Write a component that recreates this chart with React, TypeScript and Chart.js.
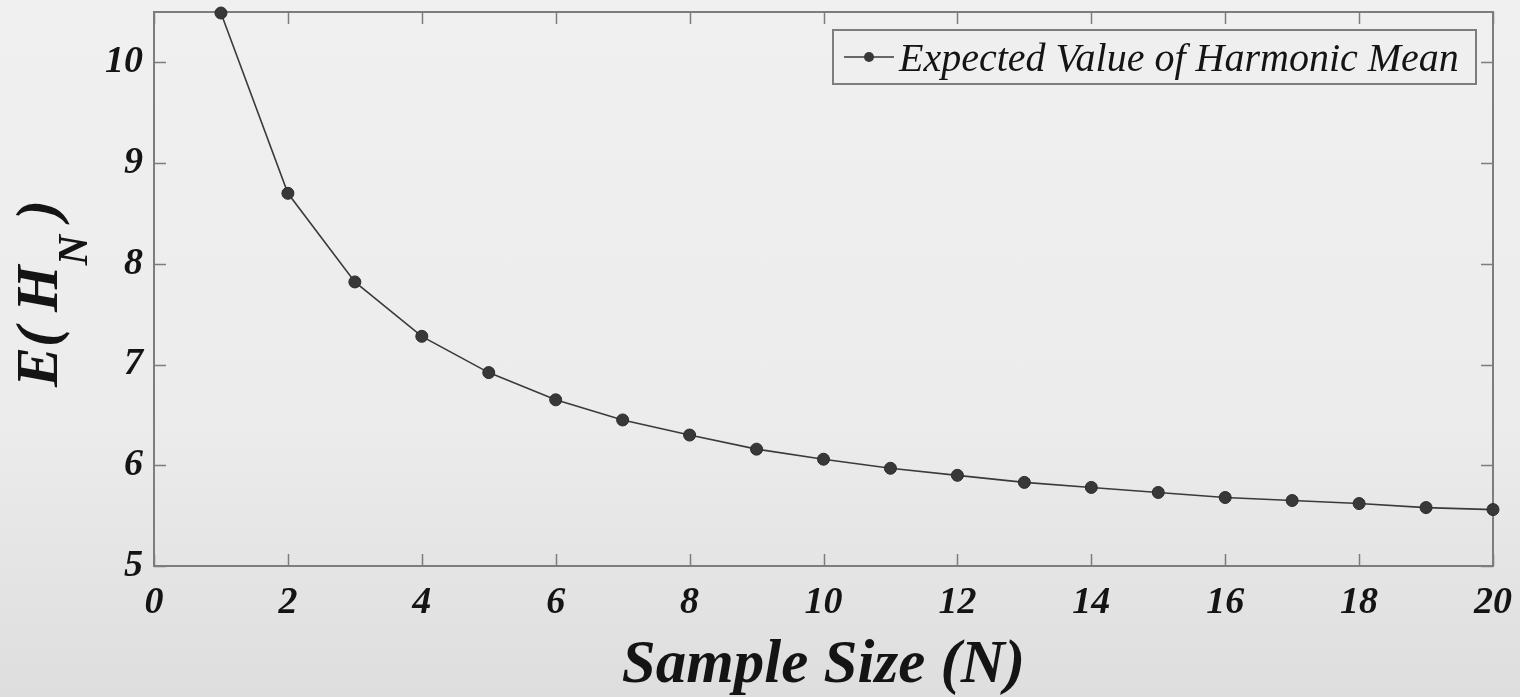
import React, { useEffect, useRef } from "react";
import { Chart, registerables } from "chart.js";

Chart.register(...registerables);

// ---- data ----
const sampleSizes = [1, 2, 3, 4, 5, 6, 7, 8, 9, 10, 11, 12, 13, 14, 15, 16, 17, 18, 19, 20];
const expectedHarmonicMean = [
  10.49, 8.7, 7.82, 7.28, 6.92, 6.65, 6.45, 6.3, 6.16, 6.06,
  5.97, 5.9, 5.83, 5.78, 5.73, 5.68, 5.65, 5.62, 5.58, 5.56,
];
const xTicks = [0, 2, 4, 6, 8, 10, 12, 14, 16, 18, 20];
const yTicks = [5, 6, 7, 8, 9, 10];
const seriesLabel = "Expected Value of Harmonic Mean";
const xTitle = "Sample Size (N)";
const yTitleMain = "E( H";
const yTitleSub = "N";
const yTitleEnd = " )";

const SERIF = '"Liberation Serif", "Times New Roman", serif';
const AXIS_GRAY = "#7d7d7d";
const TEXT = "#141414";

const boxPlugin = {
  id: "matlabBox",
  beforeDatasetsDraw(chart: any) {
    const { ctx, chartArea: a, scales } = chart;
    const xs = scales.x;
    const ys = scales.y;
    ctx.save();
    ctx.strokeStyle = AXIS_GRAY;
    ctx.lineWidth = 1.5;
    const tl = 12;
    ctx.beginPath();
    xTicks.forEach((v) => {
      const px = Math.round(xs.getPixelForValue(v)) + 0.5;
      ctx.moveTo(px, a.bottom);
      ctx.lineTo(px, a.bottom - tl);
      ctx.moveTo(px, a.top);
      ctx.lineTo(px, a.top + tl);
    });
    yTicks.forEach((v) => {
      const py = Math.round(ys.getPixelForValue(v)) + 0.5;
      ctx.moveTo(a.left, py);
      ctx.lineTo(a.left + tl, py);
      ctx.moveTo(a.right, py);
      ctx.lineTo(a.right - tl, py);
    });
    ctx.stroke();
    ctx.lineWidth = 2;
    ctx.strokeRect(a.left, a.top, a.right - a.left, a.bottom - a.top);
    ctx.restore();
  },
};

const decorPlugin = {
  id: "decor",
  afterDraw(chart: any) {
    const { ctx, chartArea: a } = chart;
    const ds = chart.data.datasets[0];
    ctx.save();

    // legend
    const lx = 833, ly = 30, lw = 643, lh = 54;
    ctx.fillStyle = "#efefef";
    ctx.fillRect(lx, ly, lw, lh);
    ctx.strokeStyle = AXIS_GRAY;
    ctx.lineWidth = 2;
    ctx.strokeRect(lx, ly, lw, lh);
    const cy = ly + lh / 2;
    ctx.strokeStyle = ds.borderColor;
    ctx.lineWidth = ds.borderWidth;
    ctx.beginPath();
    ctx.moveTo(844, cy);
    ctx.lineTo(894, cy);
    ctx.stroke();
    ctx.fillStyle = ds.pointBackgroundColor;
    ctx.beginPath();
    ctx.arc(869, cy, 5, 0, Math.PI * 2);
    ctx.fill();
    ctx.fillStyle = TEXT;
    ctx.font = `italic 40px ${SERIF}`;
    ctx.textAlign = "left";
    ctx.textBaseline = "alphabetic";
    ctx.fillText(ds.label, 899, 71);

    // x title
    ctx.font = `italic bold 61px ${SERIF}`;
    ctx.textAlign = "center";
    ctx.fillText(xTitle, (a.left + a.right) / 2, 682);

    // y title with subscript
    ctx.save();
    ctx.translate(57, 387);
    ctx.rotate(-Math.PI / 2);
    ctx.textAlign = "left";
    ctx.font = `italic bold 60px ${SERIF}`;
    ctx.fillText(yTitleMain, 0, 0);
    const w1 = ctx.measureText(yTitleMain).width;
    ctx.font = `italic bold 42px ${SERIF}`;
    ctx.fillText(yTitleSub, w1, 30);
    const w2 = ctx.measureText(yTitleSub).width;
    ctx.font = `italic bold 60px ${SERIF}`;
    ctx.fillText(yTitleEnd, w1 + w2, 0);
    ctx.restore();

    ctx.restore();
  },
};

export default function App() {
  const canvasRef = useRef<HTMLCanvasElement | null>(null);

  useEffect(() => {
    if (!canvasRef.current) return;
    const chart = new Chart(canvasRef.current, {
      type: "line",
      data: {
        datasets: [
          {
            label: seriesLabel,
            data: sampleSizes.map((n, i) => ({ x: n, y: expectedHarmonicMean[i] })),
            borderColor: "#3a3a3a",
            borderWidth: 1.6,
            pointRadius: 6,
            pointBackgroundColor: "#383838",
            pointBorderColor: "#2a2a2a",
            pointBorderWidth: 1,
            tension: 0,
            clip: false as any,
          } as any,
        ],
      },
      options: {
        animation: false,
        responsive: false,
        maintainAspectRatio: false,
        layout: { padding: { top: 12, right: 27, left: 0, bottom: 0 } },
        plugins: {
          legend: { display: false },
          tooltip: { enabled: false },
          title: { display: false },
        },
        scales: {
          x: {
            type: "linear",
            min: 0,
            max: 20,
            afterBuildTicks: (s: any) => {
              s.ticks = xTicks.map((v) => ({ value: v }));
            },
            afterFit: (s: any) => {
              s.height = 131;
              s.paddingLeft = 0;
              s.paddingRight = 0;
            },
            grid: { display: false, drawTicks: false },
            border: { display: false },
            ticks: {
              padding: 14,
              color: TEXT,
              maxRotation: 0,
              autoSkip: false,
              font: { family: SERIF, size: 38, style: "italic", weight: "bold" },
            },
          },
          y: {
            type: "linear",
            min: 5,
            max: 10.5,
            afterBuildTicks: (s: any) => {
              s.ticks = yTicks.map((v) => ({ value: v }));
            },
            afterFit: (s: any) => {
              s.width = 154;
              s.paddingTop = 0;
              s.paddingBottom = 0;
            },
            grid: { display: false, drawTicks: false },
            border: { display: false },
            ticks: {
              padding: 11,
              color: TEXT,
              autoSkip: false,
              font: { family: SERIF, size: 38, style: "italic", weight: "bold" },
            },
          },
        },
      },
      plugins: [boxPlugin, decorPlugin],
    });
    return () => chart.destroy();
  }, []);

  return (
    <div
      style={{
        position: "fixed",
        left: 0,
        top: 0,
        width: 1520,
        height: 697,
        background: "linear-gradient(to bottom, #f0f0f0 0%, #ececec 60%, #dedede 100%)",
      }}
    >
      <canvas ref={canvasRef} width={1520} height={697} style={{ width: 1520, height: 697, display: "block" }} />
    </div>
  );
}
